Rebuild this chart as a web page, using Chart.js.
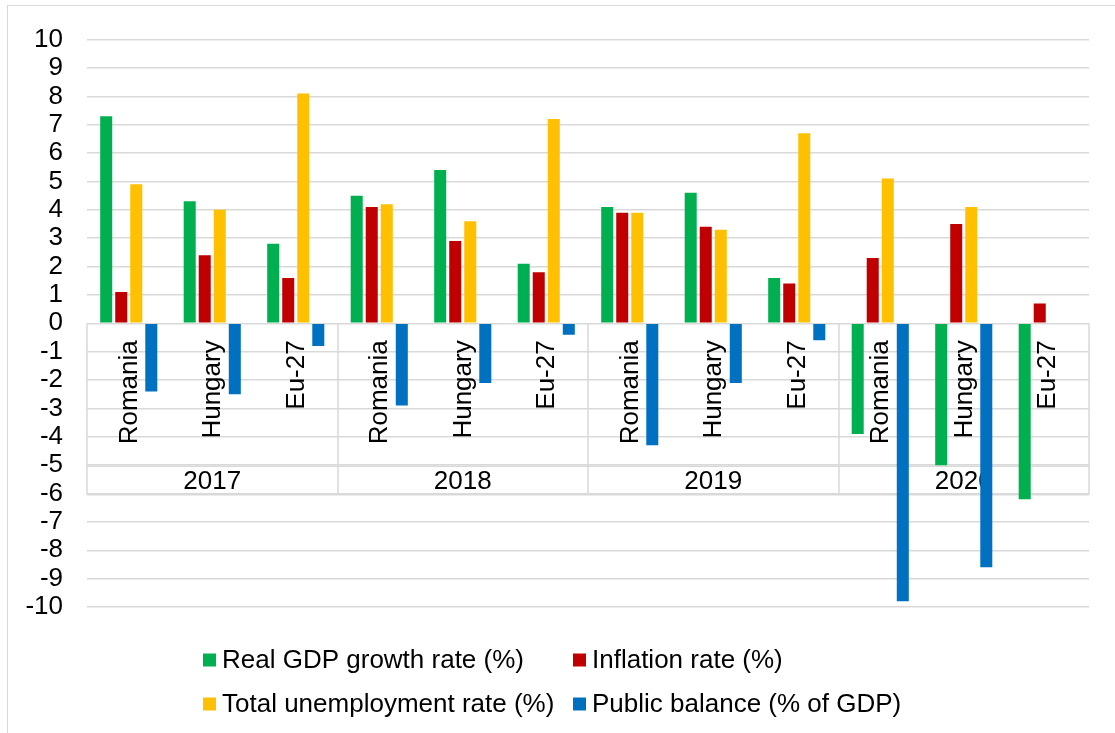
<!DOCTYPE html>
<html>
<head>
<meta charset="utf-8">
<script src="https://cdn.jsdelivr.net/npm/chart.js@4"></script>
<style>
html, body { margin: 0; padding: 0; background: #fff; }
#wrap { position: relative; width: 1115px; height: 733px; }
</style>
</head>
<body>
<div id="wrap"><canvas id="macroChart" width="1115" height="733"></canvas></div>
<script>
const years = ['2017', '2018', '2019', '2020'];
const countries = ['Romania', 'Hungary', 'Eu-27'];
const gdpGrowth = [7.3, 4.3, 2.8, 4.5, 5.4, 2.1, 4.1, 4.6, 1.6, -3.9, -5.0, -6.2];
const inflation = [1.1, 2.4, 1.6, 4.1, 2.9, 1.8, 3.9, 3.4, 1.4, 2.3, 3.5, 0.7];
const unemployment = [4.9, 4.0, 8.1, 4.2, 3.6, 7.2, 3.9, 3.3, 6.7, 5.1, 4.1, null];
const publicBalance = [-2.4, -2.5, -0.8, -2.9, -2.1, -0.4, -4.3, -2.1, -0.6, -9.8, -8.6, null];
const yMin = -10, yMax = 10, yStep = 1;

const labels = years.flatMap(() => countries);
const FONT = '"Liberation Sans", Arial, sans-serif';
const GRID = '#d9d9d9';
const FS = 26;

// outer frame round the whole chart
const frame = {
    id: 'frame',
    beforeDraw(chart) {
        const ctx = chart.ctx;
        ctx.save();
        ctx.strokeStyle = GRID;
        ctx.lineWidth = 1;
        ctx.strokeRect(7.5, 5.5, 1300, 1000);
        ctx.restore();
    }
};

// country labels + year row, drawn at the zero line under the bars
const groupLabels = {
    id: 'groupLabels',
    beforeDatasetsDraw(chart) {
        const { ctx, chartArea, scales: { x, y } } = chart;
        const y0 = y.getPixelForValue(0);
        const rowH = 143, yearH = 28.5;
        const step = (chartArea.right - chartArea.left) / labels.length;
        ctx.save();
        ctx.strokeStyle = GRID;
        ctx.lineWidth = 1.5;
        for (let g = 0; g <= years.length; g++) {
            const px = Math.round(chartArea.left + g * countries.length * step);
            ctx.beginPath();
            ctx.moveTo(px, y0);
            ctx.lineTo(px, y0 + rowH + yearH);
            ctx.stroke();
        }
        [rowH, rowH + yearH].forEach(off => {
            ctx.beginPath();
            ctx.moveTo(chartArea.left, y0 + off);
            ctx.lineTo(chartArea.right, y0 + off);
            ctx.stroke();
        });

        ctx.fillStyle = '#000';
        ctx.font = FS + 'px ' + FONT;
        labels.forEach((lab, i) => {
            const cx = x.getPixelForValue(i);
            ctx.save();
            ctx.translate(cx + 1, y0 + 17);
            ctx.rotate(-Math.PI / 2);
            ctx.textAlign = 'right';
            ctx.textBaseline = 'middle';
            ctx.fillText(lab, 0, 0);
            ctx.restore();
        });
        ctx.textAlign = 'center';
        ctx.textBaseline = 'middle';
        years.forEach((yr, g) => {
            const first = g * countries.length;
            const cx = (x.getPixelForValue(first) + x.getPixelForValue(first + countries.length - 1)) / 2;
            ctx.fillText(yr, cx, y0 + rowH + yearH / 2 + 1);
        });
        ctx.restore();
    }
};

// two-column legend like the Excel one
const gridLegend = {
    id: 'gridLegend',
    afterDraw(chart) {
        const ctx = chart.ctx;
        const colX = [203, 573];
        const rowY = [660, 704];
        ctx.save();
        ctx.font = FS + 'px ' + FONT;
        ctx.textBaseline = 'middle';
        ctx.textAlign = 'left';
        chart.data.datasets.forEach((ds, i) => {
            const bx = colX[i % 2], by = rowY[Math.floor(i / 2)];
            ctx.fillStyle = ds.backgroundColor;
            ctx.fillRect(bx, by - 6.5, 13, 13);
            ctx.fillStyle = '#000';
            ctx.fillText(ds.label, bx + 19, by + 1);
        });
        ctx.restore();
    }
};

const ctx = document.getElementById('macroChart').getContext('2d');

let macroChart = new Chart(ctx, {
    type: 'bar',
    data: {
        labels: labels,
        datasets: [
            { label: 'Real GDP growth rate (%)', data: gdpGrowth, backgroundColor: '#00b050' },
            { label: 'Inflation rate (%)', data: inflation, backgroundColor: '#c00000' },
            { label: 'Total unemployment rate (%)', data: unemployment, backgroundColor: '#ffc000' },
            { label: 'Public balance (% of GDP)', data: publicBalance, backgroundColor: '#0070c0' }
        ]
    },
    options: {
        responsive: false,
        devicePixelRatio: 1,
        animation: false,
        categoryPercentage: 0.72,
        barPercentage: 0.8,
        layout: { padding: { top: 35, right: 26, bottom: 126, left: 0 } },
        plugins: {
            legend: { display: false },
            tooltip: { enabled: false }
        },
        scales: {
            x: { display: false },
            y: {
                min: yMin,
                max: yMax,
                afterFit(scale) { scale.width = 87; },
                border: { display: false },
                grid: { color: GRID, lineWidth: 1.5, drawTicks: false },
                ticks: {
                    stepSize: yStep,
                    autoSkip: false,
                    padding: 24,
                    color: '#000',
                    font: { size: FS, family: FONT }
                }
            }
        }
    },
    plugins: [frame, groupLabels, gridLegend]
});
</script>
</body>
</html>
